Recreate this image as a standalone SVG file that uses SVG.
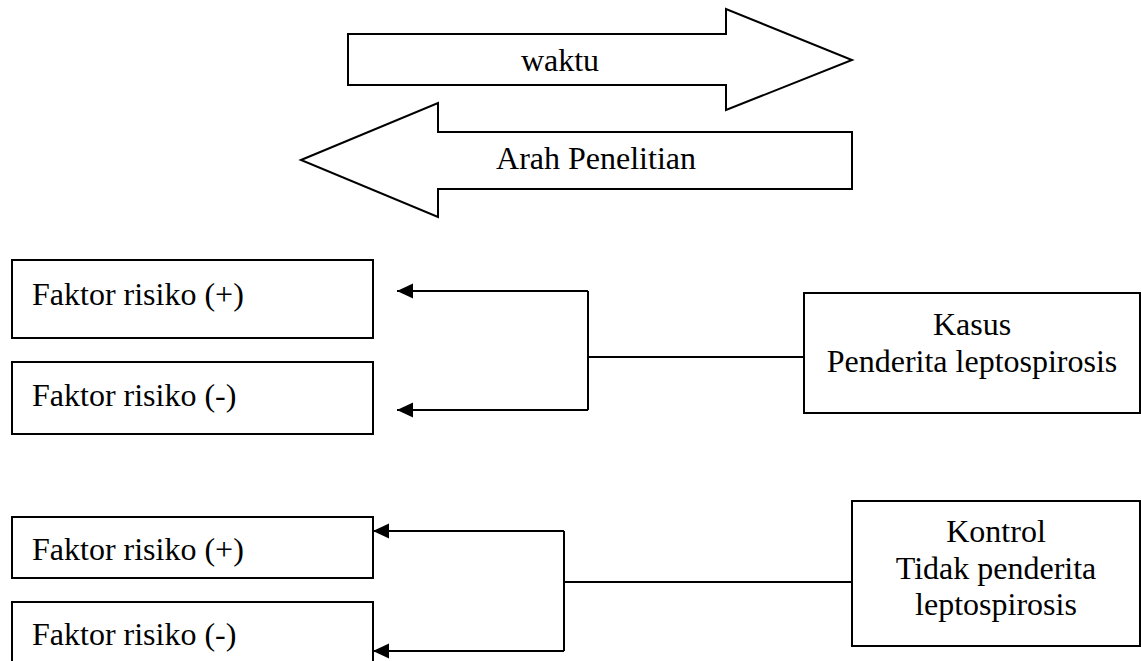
<svg xmlns="http://www.w3.org/2000/svg" width="1141" height="661" viewBox="0 0 1141 661">
<defs>
<style>
.sh{fill:#fff;stroke:#000;stroke-width:2;stroke-linejoin:miter}
.t{font-family:"Liberation Serif","Times New Roman",serif;font-size:32px;fill:#000}
.c{text-anchor:middle}
.ln{fill:none;stroke:#000;stroke-width:2}
</style>
<marker id="ah" markerUnits="userSpaceOnUse" markerWidth="16" markerHeight="16" refX="16" refY="8" orient="auto">
<path d="M0,0.5 L16,8 L0,15.5 Z" fill="#000"/>
</marker>
</defs>
<rect width="1141" height="661" fill="#fff"/>
<g id="arrow-waktu">
<polygon class="sh" points="348,34 726,34 726,9 852,60 726,110 726,85 348,85"/>
<text class="t c" x="560" y="71">waktu</text>
</g>
<g id="arrow-arah">
<polygon class="sh" points="301,160 438,103 438,132 852,132 852,189 438,189 438,217"/>
<text class="t c" x="596" y="169">Arah Penelitian</text>
</g>
<g id="kasus-fr-pos">
<rect class="sh" x="12" y="260" width="361" height="78"/>
<text class="t" x="32" y="305">Faktor risiko (+)</text>
</g>
<g id="kasus-fr-neg">
<rect class="sh" x="12" y="362" width="361" height="72"/>
<text class="t" x="32" y="406">Faktor risiko (-)</text>
</g>
<g id="kasus">
<rect class="sh" x="804" y="293" width="336" height="120"/>
<text class="t c" x="972" y="335">Kasus</text>
<text class="t c" x="972" y="372">Penderita leptospirosis</text>
</g>
<g id="kontrol-fr-pos">
<rect class="sh" x="12" y="517" width="361" height="61"/>
<text class="t" x="32" y="560">Faktor risiko (+)</text>
</g>
<g id="kontrol-fr-neg">
<rect class="sh" x="12" y="602" width="361" height="80"/>
<text class="t" x="32" y="645">Faktor risiko (-)</text>
</g>
<g id="kontrol">
<rect class="sh" x="852" y="501" width="288" height="145"/>
<text class="t c" x="996" y="542">Kontrol</text>
<text class="t c" x="996" y="579">Tidak penderita</text>
<text class="t c" x="996" y="615">leptospirosis</text>
</g>
<g id="connectors">
<line class="ln" x1="804" y1="357" x2="588" y2="357"/>
<polyline class="ln" points="588,291 588,410"/>
<line class="ln" x1="588" y1="291" x2="397" y2="291" marker-end="url(#ah)"/>
<line class="ln" x1="588" y1="410" x2="397" y2="410" marker-end="url(#ah)"/>
<line class="ln" x1="852" y1="582" x2="564" y2="582"/>
<polyline class="ln" points="564,531 564,651"/>
<line class="ln" x1="564" y1="531" x2="373" y2="531" marker-end="url(#ah)"/>
<line class="ln" x1="564" y1="651" x2="373" y2="651" marker-end="url(#ah)"/>
</g>
</svg>
